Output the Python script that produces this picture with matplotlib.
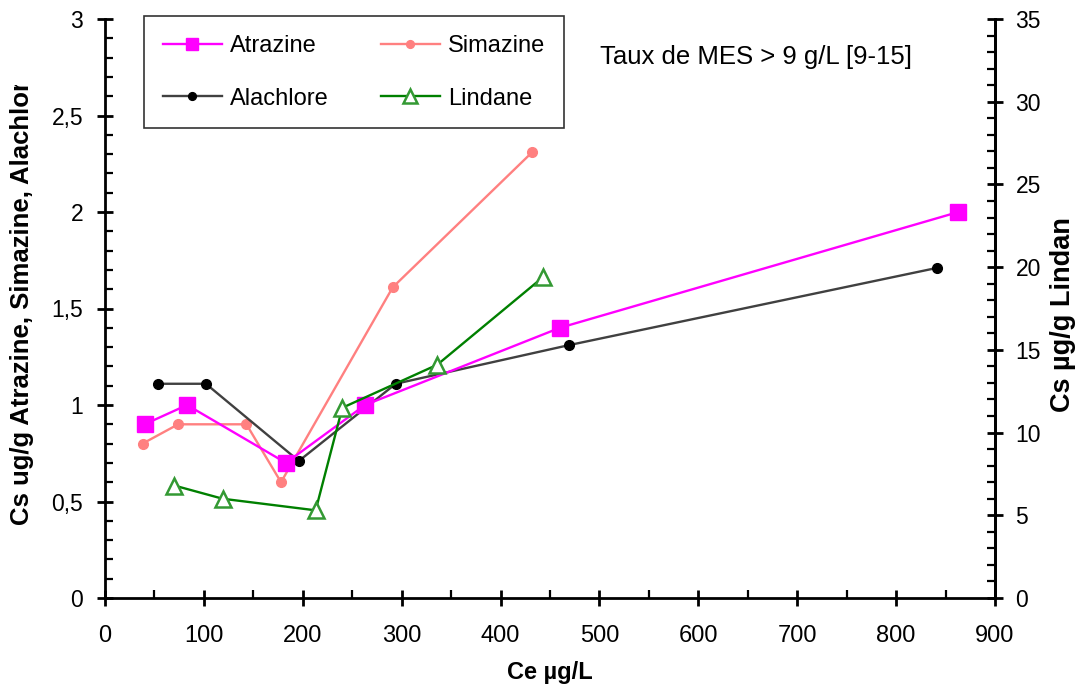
import matplotlib
matplotlib.use("Agg")
import matplotlib.pyplot as plt
from matplotlib.ticker import MultipleLocator
from matplotlib.transforms import Bbox

plt.rcParams['font.family'] = ['Liberation Sans', 'DejaVu Sans']

# concentrations en phase liquide (Ce, ug/L) et adsorbees (Cs)
atr_x = [40, 83, 183, 263, 460, 863]
atr_y = [0.9, 1.0, 0.7, 1.0, 1.4, 2.0]

sim_x = [38, 74, 143, 178, 291, 432]
sim_y = [0.8, 0.9, 0.9, 0.6, 1.61, 2.31]

ala_x = [54, 102, 196, 294, 469, 841]
ala_y = [1.11, 1.11, 0.71, 1.11, 1.31, 1.71]

lin_x = [70, 119, 213, 240, 336, 443]
lin_y = [6.8, 6.0, 5.3, 11.5, 14.1, 19.4]

W, H = 1078, 688
fig = plt.figure(figsize=(W / 100, H / 100), dpi=100)
ax = fig.add_axes([105 / W, 1 - 598 / H, 890 / W, 579 / H])
ax2 = ax.twinx()

l1, = ax.plot(atr_x, atr_y, color='#FF00FF', lw=1.7, marker='s', ms=11,
              label='Atrazine', zorder=4)
l2, = ax.plot(sim_x, sim_y, color='#FF8080', lw=1.7, marker='o', ms=7,
              label='Simazine', zorder=3)
l3, = ax.plot(ala_x, ala_y, color='#404040', lw=1.7, marker='o', ms=7,
              mfc='black', mec='black', label='Alachlore', zorder=3)
l4, = ax2.plot(lin_x, lin_y, color='#008000', lw=1.7, marker='^', ms=12,
               mfc='white', mec='#339933', mew=1.8, label='Lindane')

ax.set_xlim(0, 900)
ax.set_ylim(0, 3)
ax2.set_ylim(0, 35)

ax.xaxis.set_major_locator(MultipleLocator(100))
ax.xaxis.set_minor_locator(MultipleLocator(50))
ax.yaxis.set_major_locator(MultipleLocator(0.5))
ax.yaxis.set_minor_locator(MultipleLocator(0.1))
ax2.yaxis.set_major_locator(MultipleLocator(5))
ax2.yaxis.set_minor_locator(MultipleLocator(1))
ax.yaxis.set_major_formatter(lambda v, p: f"{v:g}".replace('.', ','))

for a in (ax, ax2):
    a.spines['top'].set_visible(False)
    for s in a.spines.values():
        s.set_linewidth(2)
    a.tick_params(which='major', direction='inout', length=11.5, width=2,
                  labelsize=16.5)
    a.tick_params(which='minor', direction='in', length=6, width=1.6)
ax2.spines['left'].set_visible(False)
ax2.spines['bottom'].set_visible(False)
ax.tick_params(axis='x', which='major', labelsize=17, pad=14)
ax.tick_params(axis='y', which='major', pad=10)
ax2.tick_params(axis='y', which='major', pad=9)

fig.text(550 / W, 1 - 672 / H, 'Ce µg/L', fontsize=17, fontweight='bold',
         ha='center', va='center')
fig.text(1063 / W, 1 - 315 / H, 'Cs µg/g Lindan', rotation=90, fontsize=19.5,
         fontweight='bold', ha='center', va='center')

# titre d'axe gauche coupe en haut
yl = fig.text(22 / W, 1 - 525 / H, 'Cs ug/g Atrazine, Simazine, Alachlore',
              rotation=90, fontsize=18.5, fontweight='bold',
              ha='center', va='bottom')
yl.set_clip_box(Bbox.from_extents(0, 0, 80, H - 85))
yl.set_clip_on(True)

leg = ax.legend(handles=[l1, l3, l2, l4], ncol=2, loc='upper left',
                bbox_to_anchor=(144 / W, 1 - 16 / H),
                bbox_transform=fig.transFigure, fontsize=17, frameon=True,
                fancybox=False, edgecolor='black', handlelength=2.5,
                handletextpad=0.35, columnspacing=2.2, labelspacing=1.3,
                borderpad=0.8, borderaxespad=0, markerscale=0.8)
leg.get_frame().set_linewidth(1.2)

fig.text(600 / W, 1 - 57 / H, 'Taux de MES > 9 g/L [9-15]', fontsize=18.5,
         ha='left', va='center')

fig.savefig('out.png', dpi=100)
